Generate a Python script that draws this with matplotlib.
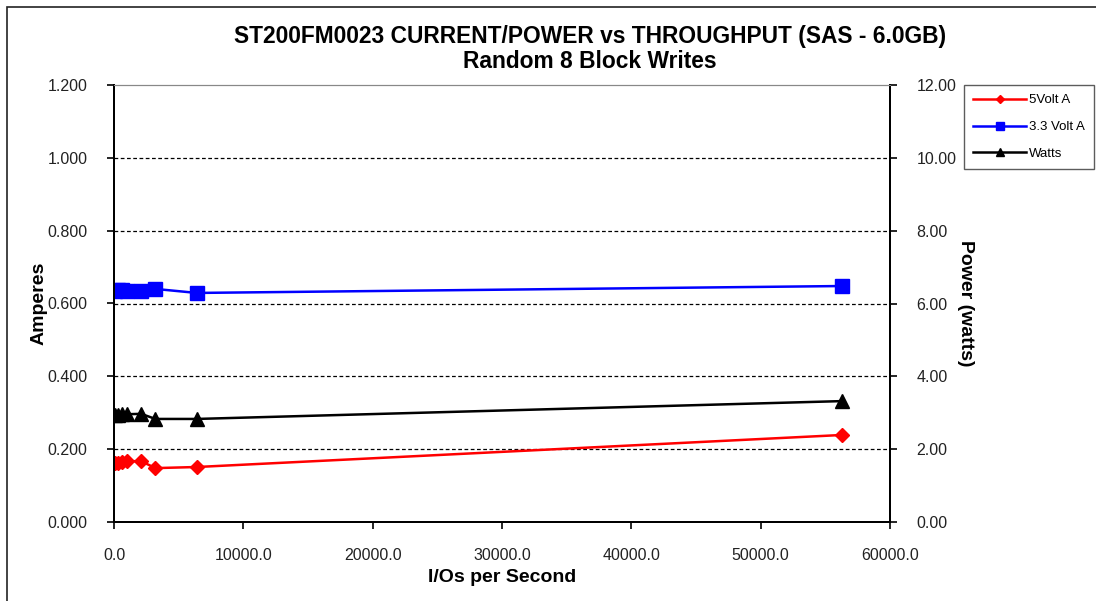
import matplotlib.pyplot as plt
from matplotlib.patches import Rectangle
from matplotlib.ticker import FormatStrFormatter, MultipleLocator

plt.rcParams['font.family'] = ['Liberation Sans', 'DejaVu Sans']

iops = [60, 300, 600, 1000, 2100, 3200, 6400, 56300]
volt5_amps = [0.162, 0.163, 0.165, 0.167, 0.167, 0.148, 0.151, 0.239]
volt33_amps = [0.635, 0.636, 0.637, 0.635, 0.635, 0.640, 0.629, 0.648]
watts = [2.94, 2.95, 2.96, 2.96, 2.97, 2.83, 2.83, 3.32]

fig = plt.figure(figsize=(10.96, 6.01), dpi=100)
# outer chart border (clipped by the image edge on right/bottom)
fig.patches.append(Rectangle((7 / 1096, -0.1), 1.2, (601 - 7) / 601 + 0.1,
                             transform=fig.transFigure, fill=False,
                             edgecolor='#222222', linewidth=1.2))

ax = fig.add_axes([114 / 1096, 1 - 522 / 601, 776 / 1096, 437 / 601])
ax2 = ax.twinx()

ax.plot(iops, volt5_amps, color='red', marker='D', markersize=7, lw=1.8, label='5Volt A')
ax.plot(iops, volt33_amps, color='blue', marker='s', markersize=10, lw=1.8, label='3.3 Volt A')
ax2.plot(iops, watts, color='black', marker='^', markersize=10, lw=1.8, label='Watts')

ax.set_xlim(0, 60000)
ax.set_ylim(0, 1.2)
ax2.set_ylim(0, 12)
ax.xaxis.set_major_locator(MultipleLocator(10000))
ax.yaxis.set_major_locator(MultipleLocator(0.2))
ax2.yaxis.set_major_locator(MultipleLocator(2))
ax.xaxis.set_major_formatter(FormatStrFormatter('%.1f'))
ax.yaxis.set_major_formatter(FormatStrFormatter('%.3f'))
ax2.yaxis.set_major_formatter(FormatStrFormatter('%.2f'))

for y in [0.2, 0.4, 0.6, 0.8, 1.0]:
    ax.axhline(y, color='black', lw=0.9, ls=(0, (3, 2)), zorder=0)

for a in (ax, ax2):
    a.spines['top'].set_color('#888888')
    a.spines['left'].set_linewidth(1.4)
    a.spines['right'].set_linewidth(1.4)
    a.spines['bottom'].set_linewidth(1.4)

tick_color = '#222222'
ax.tick_params(axis='x', direction='out', length=5, width=1.2, pad=14,
               labelsize=11.5, labelcolor=tick_color)
ax.tick_params(axis='y', direction='out', length=5, width=1.2, pad=14,
               labelsize=11.5, labelcolor=tick_color)
ax2.tick_params(axis='y', direction='out', length=5, width=1.2, pad=14,
                labelsize=11.5, labelcolor=tick_color)

ax.set_xlabel('I/Os per Second', fontsize=14, fontweight='bold', labelpad=4)
ax.set_ylabel('Amperes', fontsize=14, fontweight='bold', labelpad=0)
ax2.set_ylabel('Power (watts)', fontsize=14, fontweight='bold', rotation=-90, labelpad=13)

fig.text(590 / 1096, 1 - 37 / 601, 'ST200FM0023 CURRENT/POWER vs THROUGHPUT (SAS - 6.0GB)',
         ha='center', va='center', fontsize=16.4, fontweight='bold')
fig.text(590 / 1096, 1 - 62 / 601, 'Random 8 Block Writes',
         ha='center', va='center', fontsize=16.4, fontweight='bold')

h1, l1 = ax.get_legend_handles_labels()
h2, l2 = ax2.get_legend_handles_labels()
leg = fig.legend(h1 + h2, l1 + l2, loc='upper left',
                 bbox_to_anchor=(964 / 1096, 1 - 85 / 601), borderaxespad=0,
                 fontsize=9.5,
                 frameon=True, fancybox=False, edgecolor='#333333',
                 markerscale=0.6, handlelength=4, labelspacing=1.1,
                 borderpad=0.7, handletextpad=0.2)
leg.get_frame().set_linewidth(1.0)

fig.savefig('out.png', dpi=100)
